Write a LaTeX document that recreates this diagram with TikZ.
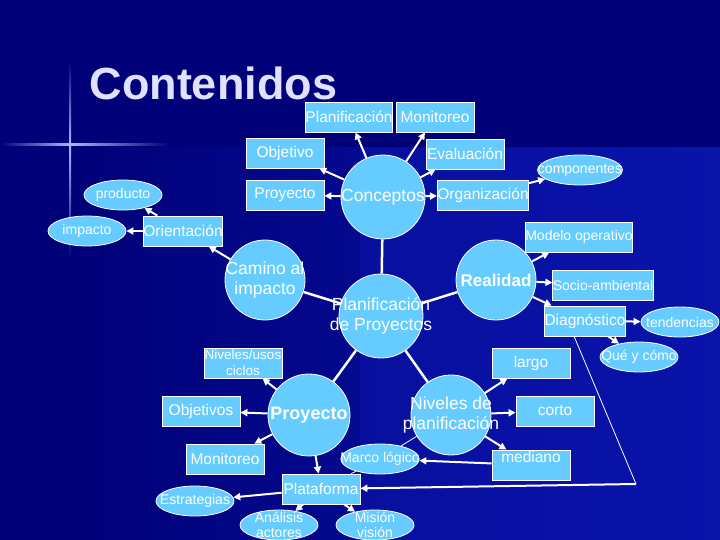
\documentclass[tikz,border=0pt]{standalone}
\usepackage{fontspec}
\setmainfont{Liberation Sans}
\usetikzlibrary{shapes.geometric,arrows.meta}
\definecolor{bgA}{RGB}{0,0,120}
\definecolor{bgB}{RGB}{10,20,170}
\definecolor{sky}{RGB}{102,204,255}
\begin{document}
\begin{tikzpicture}[x=1pt,y=-1pt,
 box/.style={draw=white,line width=0.8pt,fill=sky,minimum width=78pt,minimum height=30pt,inner sep=0pt,text=white,font=\fontsize{15.5}{16}\selectfont},
 ell/.style={ellipse,draw=white,line width=0.8pt,fill=sky,minimum width=78pt,minimum height=30pt,inner xsep=-12pt,inner ysep=-8pt,text=white,font=\fontsize{14}{14}\selectfont},
 circ/.style={circle,draw=white,line width=0.8pt,fill=sky,inner sep=-20pt,text=white,align=center,font=\fontsize{17.5}{20}\selectfont},
 arr/.style={white,line width=2pt,-{Triangle[length=7pt,width=7pt]}},
 lnk/.style={white,line width=2.5pt},
 thin/.style={white,line width=0.8pt}]
\useasboundingbox (0,0) rectangle (720,540);
\fill[bgA] (0,0) rectangle (720,540);
\shade[left color=bgA,right color=bgB] (70,148) rectangle (720,540);
\fill[bgB,opacity=0.6] (360,148) rectangle (720,540);
\shade[left color=bgA,right color=white!70!blue] (0,144) rectangle (70,146);
\shade[left color=white!70!blue,right color=bgA] (70,144) rectangle (170,146);
\shade[top color=bgA,bottom color=white!70!blue] (69,60) rectangle (71,145);
\shade[top color=white!70!blue,bottom color=bgA] (69,145) rectangle (71,260);
\node[text=white!88!blue,font=\bfseries\fontsize{45}{48}\selectfont,anchor=west] (title) at (86,83) {Contenidos};
% nodes
\node[box] (planif) at (349,117) {Planificación};
\node[box] (monit) at (435,117) {Monitoreo};
\node[box] (objet) at (285,153) {Objetivo};
\node[box] (eval) at (465,154) {Evaluación};
\node[box] (proyb) at (285,195) {Proyecto};
\node[circ,minimum size=84pt] (conc) at (383,197) {Conceptos};
\node[box] (organ) at (483,195) {Organización};
\node[ell] (compo) at (580,170) {componentes};
\node[ell] (produ) at (123,195) {producto};
\node[ell] (impac) at (87,231) {impacto};
\node[box] (orien) at (183,231) {Orientación};
\node[box,font=\fontsize{14}{15}\selectfont] (model) at (579,237) {Modelo operativo};
\node[circ,minimum size=80pt] (camino) at (265,280) {Camino al\\impacto};
\node[circ,minimum size=80pt,font=\bfseries\fontsize{17}{19}\selectfont] (realid) at (496,280) {Realidad};
\node[box,font=\fontsize{14}{15}\selectfont] (socio) at (603,285) {Socio-ambiental};
\node[circ,minimum size=84pt] (pproy) at (381,316) {Planificación\\de Proyectos};
\node[box] (diagn) at (585,321) {Diagnóstico};
\node[ell] (tende) at (680,322) {tendencias};
\node[ell] (quey) at (639,357) {Qué y cómo};
\node[box,align=center,font=\fontsize{13.5}{16}\selectfont] (nivus) at (243,363) {Niveles/usos\\ciclos};
\node[box] (largo) at (531,363) {largo};
\node[circ,minimum size=82pt,font=\bfseries\fontsize{18}{20}\selectfont] (proyc) at (309,415) {Proyecto};
\node[circ,minimum size=80pt] (nivpl) at (451,415) {Niveles de\\planificación};
\node[box] (corto) at (555,411) {corto};
\node[box] (objvs) at (201,411) {Objetivos};
\node[box] (monb) at (225,459) {Monitoreo};
\node[box] (media) at (531,465) {};
\node[text=white,font=\fontsize{15.5}{16}\selectfont] (medt) at (531,457) {mediano};
\node[ell] (marco) at (380,459) {Marco lógico};
\node[box] (plat) at (321,489) {Plataforma};
\node[ell] (estra) at (195,501) {Estrategias};
\node[ell,align=center,font=\fontsize{14}{15}\selectfont] (anali) at (279,525) {Análisis\\actores};
\node[ell,align=center,font=\fontsize{14}{15}\selectfont] (misio) at (375,525) {Misión\\visión};
\coordinate (corner) at (636,484);
% connectors
\draw[arr] (conc) -- (planif);
\draw[arr] (conc) -- (monit);
\draw[arr] (conc) -- (objet);
\draw[arr] (conc) -- (eval);
\draw[arr] (conc) -- (proyb);
\draw[arr] (conc) -- (organ);
\draw[arr] (organ) -- (compo);
\draw[arr] (orien) -- (produ);
\draw[arr] (orien) -- (impac);
\draw[arr] (camino) -- (orien);
\draw[lnk] (conc) -- (pproy);
\draw[lnk] (camino) -- (pproy);
\draw[lnk] (pproy) -- (realid);
\draw[lnk] (pproy) -- (proyc);
\draw[lnk] (pproy) -- (nivpl);
\draw[arr] (realid) -- (model);
\draw[arr] (realid) -- (socio);
\draw[arr] (realid) -- (diagn);
\draw[arr] (diagn) -- (tende);
\draw[arr] (diagn) -- (quey);
\draw[arr] (proyc) -- (nivus);
\draw[arr] (proyc) -- (objvs);
\draw[arr] (proyc) -- (monb);
\draw[arr] (proyc) -- (plat);
\draw[arr] (nivpl) -- (largo);
\draw[arr] (nivpl) -- (corto);
\draw[arr] (nivpl) -- (media);
\draw[thin] (nivpl) -- (marco);
\draw[arr] (media) -- (marco);
\draw[thin] (marco) -- (plat);
\draw[arr] (plat) -- (estra);
\draw[arr] (plat) -- (anali);
\draw[arr] (plat) -- (misio);
\draw[thin] (diagn.south west) ++(30,0) -- (corner);
\draw[arr] (corner) -- (plat);
\end{tikzpicture}
\end{document}
